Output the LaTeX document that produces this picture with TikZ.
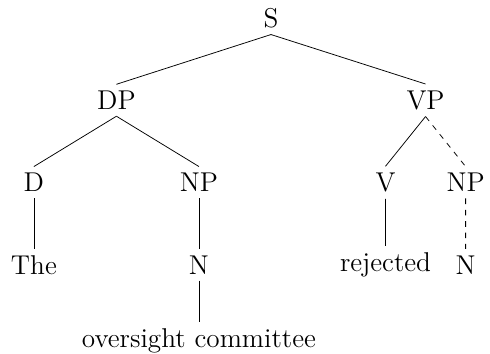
\documentclass[tikz,border=0pt]{standalone}
\usetikzlibrary{trees}

\begin{document}
\begin{tikzpicture}[x=0.0186cm,y=0.0186cm,font=\Large,
	level distance=1.53cm,
	level 1/.style={sibling distance=5.75cm},
	level 4/.style={level distance=1.41cm},
	parent anchor=south,child anchor=north,
	edge from parent path={(\tikzparentnode.south) -- (\tikzchildnode.north)}]
	\useasboundingbox (-271,18) rectangle (219,-335);
	\node (s) {S}
	child {
		node (dp) {DP}
		[sibling distance=3.07cm]
		child {
			node (d) {D}
			child {node (the) {The}}
		}
		child {
			node (np1) {NP}
			child {
				node (n1) {N}
				child {node (oc) {oversight committee}}
			}
		}
	}
	child {
		node (vp) {VP}
		[sibling distance=1.49cm]
		child {
			node (v) {V}
			child {node (rej) {rejected}}
		}
		child {
			node (np2) {NP}
			child {
				node (n2) {N}
				edge from parent[dashed]
			}
			edge from parent[dashed]
		}
	};
\end{tikzpicture}
\end{document}
